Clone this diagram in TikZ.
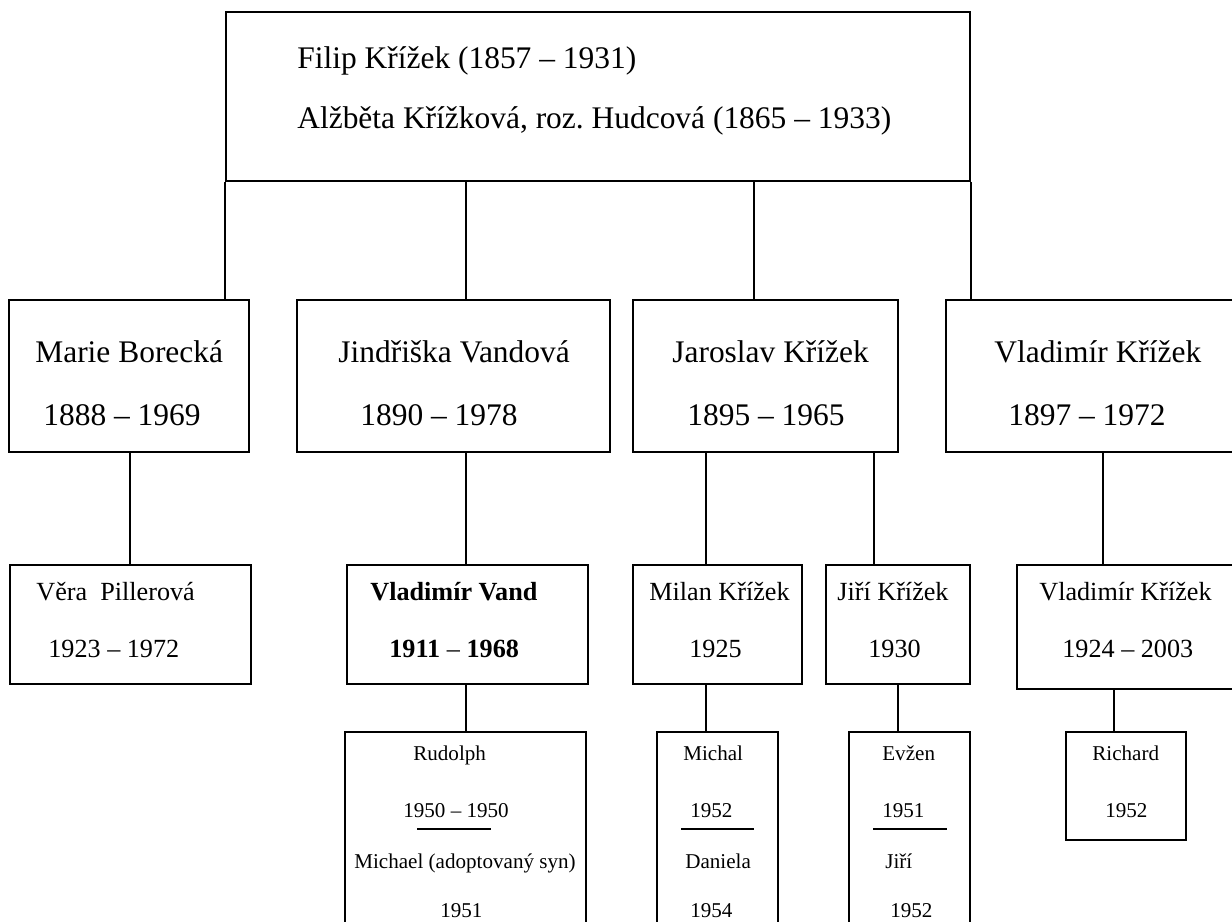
\documentclass[tikz,border=0pt]{standalone}
\usepackage{fontspec}
\setmainfont{Liberation Serif}
\frenchspacing
\usetikzlibrary{fit,positioning}

\begin{document}
\begin{tikzpicture}[x=0.02cm, y=-0.02cm,
    box/.style={draw, line width=1pt, inner sep=0pt},
    link/.style={line width=1pt},
    lvone/.style={anchor=base west, inner sep=0pt, font=\fontsize{17.9}{21}\selectfont},
    lvtwo/.style={anchor=base west, inner sep=0pt, font=\fontsize{14.9}{18}\selectfont},
    lvthree/.style={anchor=base west, inner sep=0pt, font=\fontsize{12}{14}\selectfont}]
    \useasboundingbox (0,0) rectangle (1232,921);
    \clip (0,0) rectangle (1232,921);

    % Parents
    \node[box, fit={(226,12) (970,181)}] (parents) {};
    \node[lvone] (filip) at (297,68) {Filip Křížek (1857 – 1931)};
    \node[lvone] (alzbeta) at (297,128) {Alžběta Křížková, roz. Hudcová (1865 – 1933)};

    % Children
    \node[box, fit={(9,300) (249,452)}] (marie) {};
    \node[lvone] (marieN) at (35,362) {Marie Borecká};
    \node[lvone] (marieD) at (43,425) {1888 – 1969};

    \node[box, fit={(297,300) (610,452)}] (jindriska) {};
    \node[lvone] (jindriskaN) at (338,362) {Jindřiška Vandová};
    \node[lvone] (jindriskaD) at (360,425) {1890 – 1978};

    \node[box, fit={(633,300) (898,452)}] (jaroslav) {};
    \node[lvone] (jaroslavN) at (672,362) {Jaroslav Křížek};
    \node[lvone] (jaroslavD) at (687,425) {1895 – 1965};

    \node[box, fit={(946,300) (1240,452)}] (vladimir) {};
    \node[lvone] (vladimirN) at (994,362) {Vladimír Křížek};
    \node[lvone] (vladimirD) at (1008,425) {1897 – 1972};

    % Grandchildren
    \node[box, fit={(10,565) (251,684)}] (vera) {};
    \node[lvtwo] (veraN) at (36,600) {Věra~ Pillerová};
    \node[lvtwo] (veraD) at (48,657) {1923 – 1972};

    \node[box, fit={(347,565) (588,684)}] (vand) {};
    \node[lvtwo] (vandN) at (370,600) {\textbf{Vladimír Vand}};
    \node[lvtwo] (vandD) at (389,657) {\textbf{1911} – \textbf{1968}};

    \node[box, fit={(633,565) (802,684)}] (milan) {};
    \node[lvtwo] (milanN) at (649,600) {Milan Křížek};
    \node[lvtwo] (milanD) at (689,657) {1925};

    \node[box, fit={(826,565) (970,684)}] (jiri) {};
    \node[lvtwo] (jiriN) at (837,600) {Jiří Křížek};
    \node[lvtwo] (jiriD) at (868,657) {1930};

    \node[box, fit={(1017,565) (1240,689)}] (vladimirml) {};
    \node[lvtwo] (vladimirmlN) at (1039,600) {Vladimír Křížek};
    \node[lvtwo] (vladimirmlD) at (1062,657) {1924 – 2003};

    % Great-grandchildren
    \node[box, fit={(345,732) (586,960)}] (rudolph) {};
    \node[lvthree] (rudolphN) at (413,760) {Rudolph};
    \node[lvthree] (rudolphD) at (403,817) {1950 – 1950};
    \draw[link] (417,829) -- (491,829);
    \node[lvthree] (michaelN) at (354,868) {Michael (adoptovaný syn)};
    \node[lvthree] (michaelD) at (440,917) {1951};

    \node[box, fit={(657,732) (778,960)}] (michal) {};
    \node[lvthree] (michalN) at (683,760) {Michal};
    \node[lvthree] (michalD) at (690,817) {1952};
    \draw[link] (681,829) -- (754,829);
    \node[lvthree] (danielaN) at (685,868) {Daniela};
    \node[lvthree] (danielaD) at (690,917) {1954};

    \node[box, fit={(849,732) (970,960)}] (evzen) {};
    \node[lvthree] (evzenN) at (882,760) {Evžen};
    \node[lvthree] (evzenD) at (882,817) {1951};
    \draw[link] (873,829) -- (947,829);
    \node[lvthree] (jiriiN) at (885,868) {Jiří};
    \node[lvthree] (jiriiD) at (890,917) {1952};

    \node[box, fit={(1066,732) (1186,840)}] (richard) {};
    \node[lvthree] (richardN) at (1092,760) {Richard};
    \node[lvthree] (richardD) at (1105,817) {1952};

    % Connectors
    \coordinate (xJin) at (466,0);
    \coordinate (xJar) at (754,0);
    \coordinate (xVer) at (130,0);
    \coordinate (xMil) at (706,0);
    \coordinate (xJir) at (874,0);
    \coordinate (xEvz) at (898,0);
    \coordinate (xVla) at (1103,0);
    \coordinate (xRic) at (1114,0);
    \draw[link] (parents.south west) -- (parents.south west |- marie.north);
    \draw[link] (xJin |- parents.south) -- (xJin |- jindriska.north);
    \draw[link] (xJar |- parents.south) -- (xJar |- jaroslav.north);
    \draw[link] (parents.south east) -- (parents.south east |- vladimir.north);
    \draw[link] (xVer |- marie.south) -- (xVer |- vera.north);
    \draw[link] (xJin |- jindriska.south) -- (xJin |- vand.north);
    \draw[link] (xMil |- jaroslav.south) -- (xMil |- milan.north);
    \draw[link] (xJir |- jaroslav.south) -- (xJir |- jiri.north);
    \draw[link] (xVla |- vladimir.south) -- (xVla |- vladimirml.north);
    \draw[link] (xJin |- vand.south) -- (xJin |- rudolph.north);
    \draw[link] (xMil |- milan.south) -- (xMil |- michal.north);
    \draw[link] (xEvz |- jiri.south) -- (xEvz |- evzen.north);
    \draw[link] (xRic |- vladimirml.south) -- (xRic |- richard.north);
\end{tikzpicture}
\end{document}
